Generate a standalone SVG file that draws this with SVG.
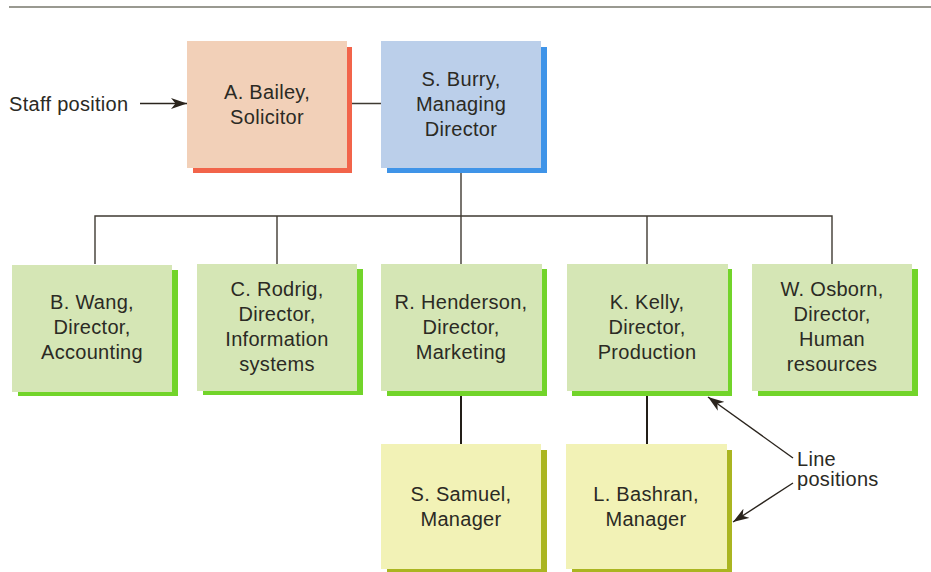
<svg xmlns="http://www.w3.org/2000/svg" width="931" height="572" viewBox="0 0 931 572">
  <defs>
    <marker id="head" markerUnits="userSpaceOnUse" markerWidth="18" markerHeight="12" refX="16" refY="6" orient="auto">
      <path d="M0,0.5 L16,6 L0,11.5 L4.5,6 Z" fill="#2a241d"/>
    </marker>
    <style>
      text { font-family: "Liberation Sans", Arial, sans-serif; font-size: 20px; fill: #2b2a24; letter-spacing: 0.3px; }
      .c { text-anchor: middle; }
      .peach { fill: #f2d0b8; }
      .peach-sh { fill: #f2644a; }
      .blue { fill: #bbcfea; }
      .blue-sh { fill: #3f94e8; }
      .green { fill: #d5e6b5; }
      .green-sh { fill: #72d42a; }
      .yellow { fill: #f2f2b6; }
      .yellow-sh { fill: #aab521; }
      .wire { stroke: #3f3a32; stroke-width: 1.4; fill: none; }
      .wire-b { stroke: #231e18; stroke-width: 2; fill: none; }
      .pointer { stroke: #2a241d; stroke-width: 1.4; fill: none; marker-end: url(#head); }
    </style>
  </defs>

  <rect width="931" height="572" fill="#ffffff"/>
  <!-- top rule -->
  <line x1="9" y1="7" x2="931" y2="7" stroke="#77776c" stroke-width="1.5"/>

  <!-- connectors -->
  <g id="connectors">
    <line class="wire" x1="347" y1="103.5" x2="381" y2="103.5"/>
    <line class="wire" x1="461" y1="168" x2="461" y2="216"/>
    <polyline class="wire" points="95,264 95,216 832,216 832,264"/>
    <line class="wire" x1="277" y1="216" x2="277" y2="264"/>
    <line class="wire" x1="461" y1="216" x2="461" y2="264"/>
    <line class="wire" x1="647" y1="216" x2="647" y2="264"/>
    <line class="wire-b" x1="461" y1="391" x2="461" y2="444"/>
    <line class="wire-b" x1="647" y1="391" x2="647" y2="444"/>
    <line class="pointer" x1="140" y1="103.5" x2="187" y2="103.5"/>
    <line class="pointer" x1="793" y1="458" x2="708" y2="397"/>
    <line class="pointer" x1="793" y1="483" x2="733" y2="522"/>
  </g>

  <text x="9" y="111">Staff position</text>
  <text x="797" y="466">Line</text>
  <text x="797" y="486">positions</text>

  <g id="bailey">
    <rect class="peach-sh" x="193" y="47" width="159" height="126"/>
    <rect class="peach" x="187" y="41" width="160" height="127"/>
    <text class="c" x="267" y="99">A. Bailey,</text>
    <text class="c" x="267" y="124">Solicitor</text>
  </g>

  <g id="burry">
    <rect class="blue-sh" x="387" y="47" width="160" height="126"/>
    <rect class="blue" x="381" y="41" width="160" height="127"/>
    <text class="c" x="461" y="86">S. Burry,</text>
    <text class="c" x="461" y="111">Managing</text>
    <text class="c" x="461" y="136">Director</text>
  </g>

  <g id="wang">
    <rect class="green-sh" x="18" y="270" width="160" height="126"/>
    <rect class="green" x="12" y="265" width="160" height="127"/>
    <text class="c" x="92" y="309">B. Wang,</text>
    <text class="c" x="92" y="334">Director,</text>
    <text class="c" x="92" y="359">Accounting</text>
  </g>

  <g id="rodrig">
    <rect class="green-sh" x="203" y="269" width="160" height="126"/>
    <rect class="green" x="197" y="264" width="160" height="127"/>
    <text class="c" x="277" y="296">C. Rodrig,</text>
    <text class="c" x="277" y="321">Director,</text>
    <text class="c" x="277" y="346">Information</text>
    <text class="c" x="277" y="371">systems</text>
  </g>

  <g id="henderson">
    <rect class="green-sh" x="387" y="269" width="160" height="127"/>
    <rect class="green" x="381" y="264" width="161" height="127"/>
    <text class="c" x="461" y="309">R. Henderson,</text>
    <text class="c" x="461" y="334">Director,</text>
    <text class="c" x="461" y="359">Marketing</text>
  </g>

  <g id="kelly">
    <rect class="green-sh" x="572" y="269" width="160" height="127"/>
    <rect class="green" x="567" y="264" width="161" height="127"/>
    <text class="c" x="647" y="309">K. Kelly,</text>
    <text class="c" x="647" y="334">Director,</text>
    <text class="c" x="647" y="359">Production</text>
  </g>

  <g id="osborn">
    <rect class="green-sh" x="758" y="269" width="160" height="127"/>
    <rect class="green" x="752" y="264" width="160" height="127"/>
    <text class="c" x="832" y="296">W. Osborn,</text>
    <text class="c" x="832" y="321">Director,</text>
    <text class="c" x="832" y="346">Human</text>
    <text class="c" x="832" y="371">resources</text>
  </g>

  <g id="samuel">
    <rect class="yellow-sh" x="387" y="450" width="160" height="126"/>
    <rect class="yellow" x="381" y="444" width="160" height="125"/>
    <text class="c" x="461" y="501">S. Samuel,</text>
    <text class="c" x="461" y="526">Manager</text>
  </g>

  <g id="bashran">
    <rect class="yellow-sh" x="572" y="450" width="160" height="126"/>
    <rect class="yellow" x="566" y="444" width="161" height="125"/>
    <text class="c" x="646" y="501">L. Bashran,</text>
    <text class="c" x="646" y="526">Manager</text>
  </g>
</svg>
